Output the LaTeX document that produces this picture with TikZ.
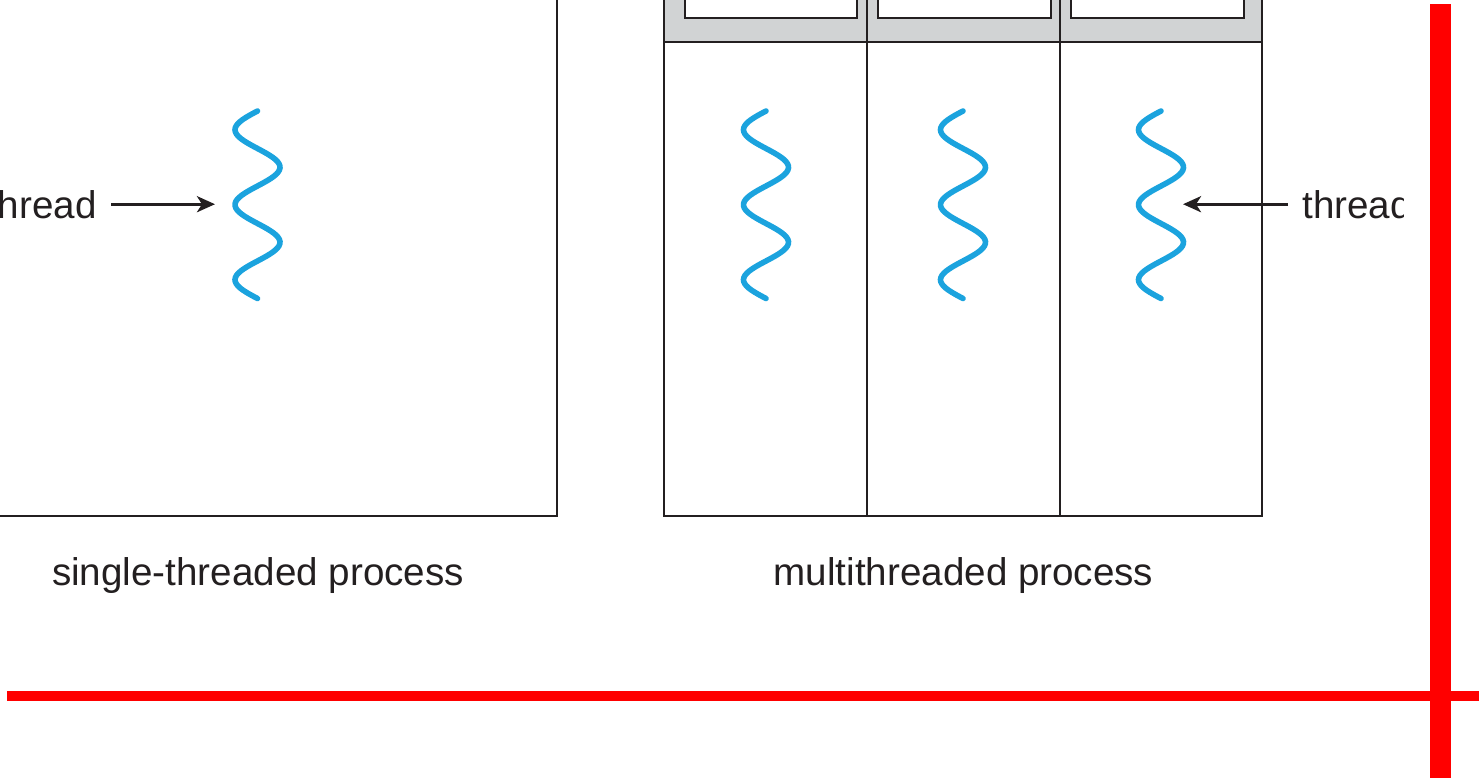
\documentclass[tikz,border=0pt]{standalone}
\usepackage{fontspec}
\setmainfont{Liberation Sans}
\usetikzlibrary{arrows.meta}
\definecolor{ink}{HTML}{231F20}
\definecolor{threadblue}{HTML}{1BA3DE}
\definecolor{regiongray}{HTML}{D1D3D4}
\definecolor{markred}{HTML}{FF0000}

\begin{document}
\begin{tikzpicture}[x=0.5pt,y=0.5pt,yscale=-1,xscale=1,
	line/.style={line width=1pt,color=ink},
	wave/.style={line width=2.8pt,color=threadblue,line cap=round},
	pointer/.style={line width=1.6pt,color=ink,shorten <=7pt,-{Stealth[length=9pt,width=8pt,inset=2.5pt]}},
	label/.style={inner sep=0pt,font=\fontsize{19.3}{23}\selectfont,text=ink}]
		\useasboundingbox (0,0) rectangle (1479,778);
		\begin{scope}
		\clip (0,0) rectangle (1403,778);
		% single-threaded process
		\draw [line] (-20,-20) rectangle (556.5,516);
		% multithreaded process
		\draw [line,fill=regiongray] (664,-20) rectangle (1262,42);
		\draw [line] (664,42) rectangle (1262,516);
		\draw [line] (866.5,-20) -- (866.5,516);
		\draw [line] (1060,-20) -- (1060,516);
		\foreach \xa/\xb in {685/857,878/1051,1071/1244}
			\draw [line,fill=white] (\xa,-20) rectangle (\xb,18);
		% threads
		\foreach \cx/\name in {257.5/t0,766/t1,963/t2,1161/t3}{
			\draw [wave] plot[domain=0:187.5,samples=90,smooth,variable=\t] ({\cx-22.5*sin(4.8*\t)},{111+\t});
			\coordinate (\name) at (\cx,205);
		}
		\coordinate (in0) at (215,205);
		\coordinate (in3) at (1183,205);
		\node [label,anchor=base east] (thr0) at (97,218) {thread};
		\node [label,anchor=base west] (thr3) at (1302,218) {thread};
		\draw [pointer] (thr0.east) -- (thr0.east -| in0);
		\draw [pointer] (thr3.west) -- (thr3.west -| in3);
		\node [label,anchor=base] (single) at (258,585) {single-threaded process};
		\node [label,anchor=base] (multi) at (963.5,585) {multithreaded process};
		\end{scope}
		% marks
		\fill [markred] (7,691) rectangle (1479,701);
		\fill [markred] (1430,4) rectangle (1451,778);
\end{tikzpicture}
\end{document}
